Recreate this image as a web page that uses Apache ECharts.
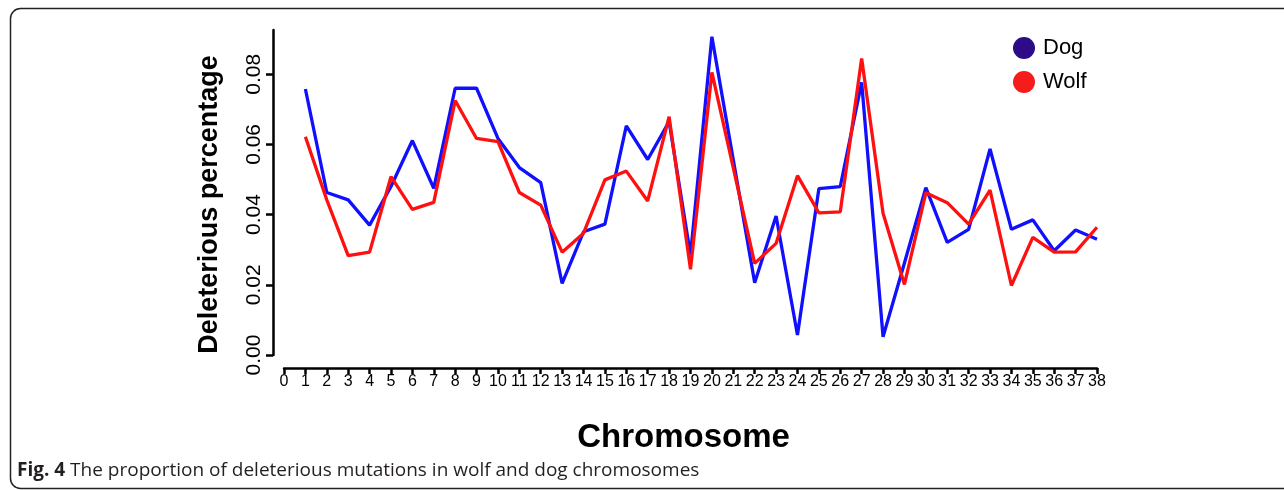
<!DOCTYPE html>
<html>
<head>
<meta charset="utf-8">
<script src="https://cdn.jsdelivr.net/npm/echarts@6/dist/echarts.min.js"></script>
<style>
html,body{margin:0;padding:0;background:#fff;}
#chart{width:1284px;height:490px;}
</style>
</head>
<body>
<div id="chart"></div>
<script>
const chromosomes = [1,2,3,4,5,6,7,8,9,10,11,12,13,14,15,16,17,18,19,20,21,22,23,24,25,26,27,28,29,30,31,32,33,34,35,36,37,38];
const dog = [0.0758,0.0463,0.0442,0.0370,0.0480,0.0611,0.0475,0.0760,0.0760,0.0617,0.0534,0.0491,0.0204,0.0351,0.0373,0.0653,0.0557,0.0665,0.0285,0.0907,0.0556,0.0206,0.0396,0.0057,0.0474,0.0480,0.0777,0.0052,0.0262,0.0477,0.0321,0.0358,0.0587,0.0358,0.0385,0.0297,0.0356,0.0330];
const wolf = [0.0622,0.0442,0.0283,0.0293,0.0508,0.0415,0.0435,0.0725,0.0617,0.0608,0.0463,0.0427,0.0293,0.0347,0.0499,0.0524,0.0439,0.0679,0.0244,0.0805,0.0533,0.0261,0.0318,0.0511,0.0405,0.0408,0.0845,0.0404,0.0201,0.0462,0.0434,0.0373,0.0470,0.0198,0.0335,0.0293,0.0294,0.0364];
const yTicks = [0, 0.02, 0.04, 0.06, 0.08];
const xMin = 0, xMax = 38;
const seriesNames = ['Dog', 'Wolf'];
const captionBold = 'Fig. 4';
const captionText = ' The proportion of deleterious mutations in wolf and dog chromosomes';

const chart = echarts.init(document.getElementById('chart'), null, {renderer: 'canvas'});
const pairs = arr => chromosomes.map((c, i) => [c, arr[i]]);

chart.setOption({
  animation: false,
  backgroundColor: '#fff',
  grid: {left: 284, right: 187, top: 30, bottom: 135, containLabel: false},
  legend: {
    orient: 'vertical',
    left: 1008, top: 32,
    itemWidth: 22, itemHeight: 22, itemGap: 12,
    icon: 'circle',
    textStyle: {fontFamily: 'Liberation Sans', fontSize: 22, color: '#000', padding: [0,0,0,3]},
    data: [
      {name: seriesNames[0], itemStyle: {color: '#2d0c88'}},
      {name: seriesNames[1], itemStyle: {color: '#f51c1c'}}
    ]
  },
  xAxis: {
    type: 'value', min: xMin, max: xMax, interval: 1,
    offset: 13,
    name: 'Chromosome', nameLocation: 'middle', nameGap: 53,
    nameTextStyle: {fontFamily: 'Liberation Sans', fontWeight: 'bold', fontSize: 33, color: '#000', padding: [0, 14, 0, 0]},
    axisLine: {show: true, onZero: false, lineStyle: {color: '#000', width: 2.5}},
    axisTick: {show: true, length: 6, lineStyle: {color: '#000', width: 2.5}},
    axisLabel: {fontFamily: 'Liberation Sans', fontSize: 16, color: '#000', margin: 6},
    splitLine: {show: false}
  },
  yAxis: {
    type: 'value', min: 0, max: 0.0926,
    offset: 11,
    name: 'Deleterious percentage', nameLocation: 'middle', nameGap: 50, nameRotate: 90,
    nameTextStyle: {fontFamily: 'Liberation Sans', fontWeight: 'bold', fontSize: 27, color: '#000', padding: [0, 24, 0, 0]},
    axisLine: {show: true, onZero: false, lineStyle: {color: '#000', width: 2.5}},
    axisTick: {show: true, length: 7, customValues: yTicks, lineStyle: {color: '#000', width: 2.5}},
    axisLabel: {customValues: yTicks, rotate: 90, fontFamily: 'Liberation Sans', fontSize: 21, color: '#000', margin: 8,
      formatter: v => v.toFixed(2)},
    splitLine: {show: false}
  },
  series: [
    {name: seriesNames[0], type: 'line', data: pairs(dog), showSymbol: false, symbol: 'none',
      lineStyle: {color: '#1010ff', width: 3.3}, itemStyle: {color: '#1010ff'}},
    {name: seriesNames[1], type: 'line', data: pairs(wolf), showSymbol: false, symbol: 'none',
      lineStyle: {color: '#ff1010', width: 3.3}, itemStyle: {color: '#ff1010'}}
  ],
  graphic: [
    {type: 'rect', shape: {x: 10.5, y: 8.5, width: 1300, height: 480, r: 10},
      style: {fill: 'none', stroke: '#222', lineWidth: 1.5}, silent: true, z: -1},
    {type: 'text', left: 17, top: 461,
      style: {
        text: '{b|' + captionBold + '}{n|' + captionText + '}',
        rich: {
          b: {fontFamily: 'Open Sans', fontWeight: 'bold', fontSize: 19, fill: '#231f20'},
          n: {fontFamily: 'Open Sans', fontSize: 19, fill: '#231f20'}
        }
      }}
  ]
});
</script>
</body>
</html>
